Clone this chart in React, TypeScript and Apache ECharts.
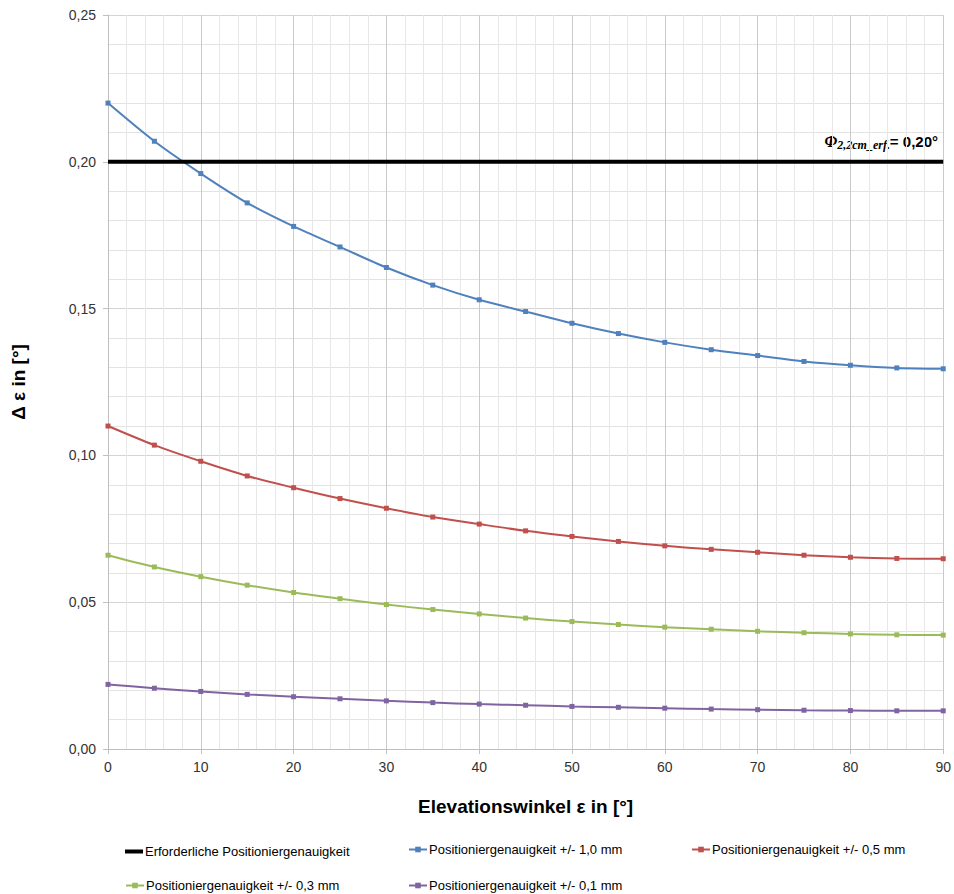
import React, { useEffect, useRef } from "react";
import * as echarts from "echarts";

const elevation = [0, 5, 10, 15, 20, 25, 30, 35, 40, 45, 50, 55, 60, 65, 70, 75, 80, 85, 90];
const required = 0.2;
const pos10 = [0.220, 0.207, 0.196, 0.186, 0.178, 0.171, 0.164, 0.158, 0.153, 0.149, 0.145, 0.1415, 0.1385, 0.136, 0.134, 0.132, 0.1307, 0.1298, 0.1295];
const pos05 = [0.110, 0.1035, 0.098, 0.093, 0.089, 0.0853, 0.082, 0.079, 0.0766, 0.0743, 0.0724, 0.0707, 0.0692, 0.068, 0.067, 0.066, 0.0653, 0.0649, 0.0648];
const pos03 = [0.066, 0.062, 0.0587, 0.0558, 0.0533, 0.0512, 0.0492, 0.0475, 0.046, 0.0446, 0.0434, 0.0424, 0.0415, 0.0408, 0.0401, 0.0396, 0.0392, 0.0389, 0.0388];
const pos01 = [0.022, 0.0207, 0.0196, 0.0186, 0.0178, 0.0171, 0.0164, 0.0158, 0.0153, 0.0149, 0.0145, 0.0142, 0.0139, 0.0136, 0.0134, 0.0132, 0.0131, 0.013, 0.013];

const names = [
  "Erforderliche Positioniergenauigkeit",
  "Positioniergenauigkeit +/- 1,0 mm",
  "Positioniergenauigkeit +/- 0,5 mm",
  "Positioniergenauigkeit +/- 0,3 mm",
  "Positioniergenauigkeit +/- 0,1 mm",
];
const colors = ["#000000", "#4f81bd", "#c0504d", "#9bbb59", "#8064a2"];

const FONT = "'Liberation Sans', Arial, sans-serif";

export default function App() {
  const ref = useRef<HTMLDivElement>(null);
  useEffect(() => {
    document.body.style.margin = "0";
    if (!ref.current) return;
    const chart = echarts.init(ref.current, null, { renderer: "svg" });
    const zip = (arr: number[]) => elevation.map((x, i) => [x, arr[i]]);
    const dataSeries = [pos10, pos05, pos03, pos01].map((arr, i) => ({
      name: names[i + 1],
      type: "line",
      data: zip(arr),
      smooth: 0.3,
      symbol: "rect",
      symbolSize: 5,
      lineStyle: { color: colors[i + 1], width: 2 },
      itemStyle: { color: colors[i + 1] },
      z: 3,
    }));
    const legendPos = [
      [125, 843],
      [408, 843],
      [691, 843],
      [125, 879],
      [408, 879],
    ];
    chart.setOption({
      animation: false,
      textStyle: { fontFamily: FONT },
      grid: { left: 108, right: 9, top: 15, bottom: 145, containLabel: false },
      legend: names.map((n, i) => ({
        data: [i === 0 ? { name: n, icon: "rect" } : { name: n }],
        left: legendPos[i][0],
        top: i === 0 ? legendPos[i][1] + 2 : legendPos[i][1],
        padding: 0,
        itemWidth: 18,
        itemHeight: i === 0 ? 4 : 7,
        textStyle: { fontSize: 13, color: "#000", fontFamily: FONT, padding: [0, 0, 0, -3] },
      })),
      xAxis: {
        type: "value",
        min: 0,
        max: 90,
        interval: 10,
        name: "Elevationswinkel ε in [°]",
        nameLocation: "middle",
        nameGap: 48,
        nameTextStyle: { fontSize: 19, fontWeight: "bold", color: "#000", fontFamily: FONT },
        axisLine: { show: true, lineStyle: { color: "#bfbfbf" } },
        axisTick: { show: true, length: 5, lineStyle: { color: "#bfbfbf" } },
        axisLabel: { fontSize: 14, color: "#333", margin: 11 },
        splitLine: { show: true, lineStyle: { color: "#cacaca", width: 1 } },
        minorTick: { show: false, splitNumber: 5 },
        minorSplitLine: { show: true, lineStyle: { color: "#e8e8e8", width: 1 } },
      },
      yAxis: {
        type: "value",
        min: 0,
        max: 0.25,
        interval: 0.05,
        name: "Δ ε in [°]",
        nameLocation: "middle",
        nameGap: 80,
        nameTextStyle: { fontSize: 19, fontWeight: "bold", color: "#000", fontFamily: FONT },
        axisLine: { show: true, lineStyle: { color: "#bfbfbf" } },
        axisTick: { show: true, length: 5, lineStyle: { color: "#bfbfbf" } },
        axisLabel: {
          fontSize: 14,
          color: "#333",
          margin: 12,
          formatter: (v: number) => v.toFixed(2).replace(".", ","),
        },
        splitLine: { show: true, lineStyle: { color: "#d4d4d4", width: 1 } },
        minorTick: { show: false, splitNumber: 5 },
        minorSplitLine: { show: true, lineStyle: { color: "#e3e3e3", width: 1 } },
      },
      series: [
        {
          name: names[0],
          type: "line",
          data: [
            [0, required],
            [90, required],
          ],
          symbol: "none",
          lineStyle: { color: "#000", width: 4 },
          itemStyle: { color: "#000" },
          z: 4,
        },
        ...dataSeries,
      ],
      graphic: [
        {
          type: "text",
          right: 16,
          top: 133,
          style: {
            text: "{phi|Φ}{sub|2,2cm_erf.}{eq|= 0,20°}",
            rich: {
              phi: { fontFamily: "'Liberation Serif', serif", fontStyle: "italic", fontWeight: "bold", fontSize: 16, fill: "#000" },
              sub: { fontFamily: "'Liberation Serif', serif", fontStyle: "italic", fontWeight: "bold", fontSize: 12, fill: "#000", padding: [8, 0, 0, 0] },
              eq: { fontFamily: FONT, fontWeight: "bold", fontSize: 15, fill: "#000" },
            },
          },
        },
      ],
    });
    return () => chart.dispose();
  }, []);
  return <div ref={ref} style={{ width: 954, height: 894 }} />;
}
